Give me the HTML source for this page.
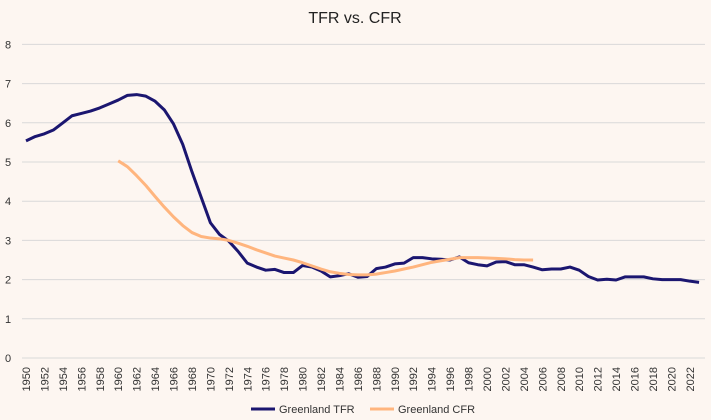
<!DOCTYPE html>
<html><head><meta charset="utf-8"><style>
body{margin:0;background:#fdf6f1;}
svg{display:block;font-family:"Liberation Sans",sans-serif;}
</style></head><body>
<svg id="c" width="711" height="420">
<rect width="711" height="420" fill="#fdf6f1"/>
<text x="355" y="23" text-anchor="middle" font-size="16" fill="#222">TFR vs. CFR</text>
<g id="grid"></g><g id="xt"></g><g id="lines"></g>
<g>
<line x1="251" y1="409" x2="275" y2="409" stroke="#1b1670" stroke-width="3"/>
<text x="279" y="413" font-size="11" fill="#333">Greenland TFR</text>
<line x1="370" y1="409" x2="394" y2="409" stroke="#ffb57e" stroke-width="3"/>
<text x="398" y="413" font-size="11" fill="#333">Greenland CFR</text>
</g>
</svg>
<script>
const years=[];for(let y=1950;y<=2023;y++)years.push(y);
const tfr=[5.54,5.65,5.72,5.82,6.0,6.18,6.24,6.3,6.38,6.48,6.58,6.7,6.72,6.68,6.55,6.33,5.97,5.45,4.75,4.1,3.45,3.15,2.98,2.72,2.42,2.32,2.24,2.26,2.18,2.18,2.36,2.32,2.22,2.07,2.1,2.15,2.06,2.08,2.28,2.32,2.4,2.42,2.56,2.56,2.53,2.52,2.5,2.58,2.43,2.38,2.35,2.45,2.46,2.38,2.38,2.32,2.25,2.27,2.27,2.32,2.24,2.08,1.99,2.01,1.99,2.07,2.07,2.07,2.02,2.0,2.0,2.0,1.96,1.93];
const cfrStart=1960;
const cfr=[5.03,4.88,4.65,4.4,4.12,3.85,3.6,3.38,3.2,3.1,3.06,3.04,3.0,2.93,2.85,2.76,2.68,2.6,2.55,2.5,2.43,2.35,2.27,2.2,2.16,2.13,2.12,2.12,2.14,2.18,2.22,2.27,2.32,2.38,2.44,2.48,2.52,2.56,2.56,2.56,2.55,2.54,2.53,2.51,2.5,2.5];
const yTicks=[0,1,2,3,4,5,6,7,8];
const NS="http://www.w3.org/2000/svg";
const X=yr=>26+(yr-1950)*9.22;
const Y=v=>358-v*39.2;
function mk(t,a,p){const e=document.createElementNS(NS,t);for(const k in a)e.setAttribute(k,a[k]);p.appendChild(e);return e;}
const g=document.getElementById('grid');
yTicks.forEach(v=>{
 const l=mk('line',{x1:22,x2:705,y1:Y(v),y2:Y(v),stroke:'#d9d9d9','stroke-width':1},g);
 
 
 const t=mk('text',{x:8,y:Y(v)+4,'text-anchor':'middle','font-size':11,fill:'#333'},g);
 t.textContent=v;
 
 
});
const xt=document.getElementById('xt');
years.filter(y=>y%2==0).forEach(y=>{
 const t=mk('text',{x:0,y:0,transform:`translate(${X(y)+4},367) rotate(-90)`,'text-anchor':'end','font-size':11,fill:'#333'},xt);
 t.textContent=y;
 
 
});
const lg=document.getElementById('lines');
const p1=mk('polyline',{points:tfr.map((v,i)=>X(years[i])+','+Y(v)).join(' '),fill:'none',stroke:'#1b1670','stroke-width':3,'stroke-linejoin':'round'},lg);


const p2=mk('polyline',{points:cfr.map((v,i)=>X(cfrStart+i)+','+Y(v)).join(' '),fill:'none',stroke:'#ffb57e','stroke-width':3,'stroke-linejoin':'round'},lg);


</script>
</body></html>
